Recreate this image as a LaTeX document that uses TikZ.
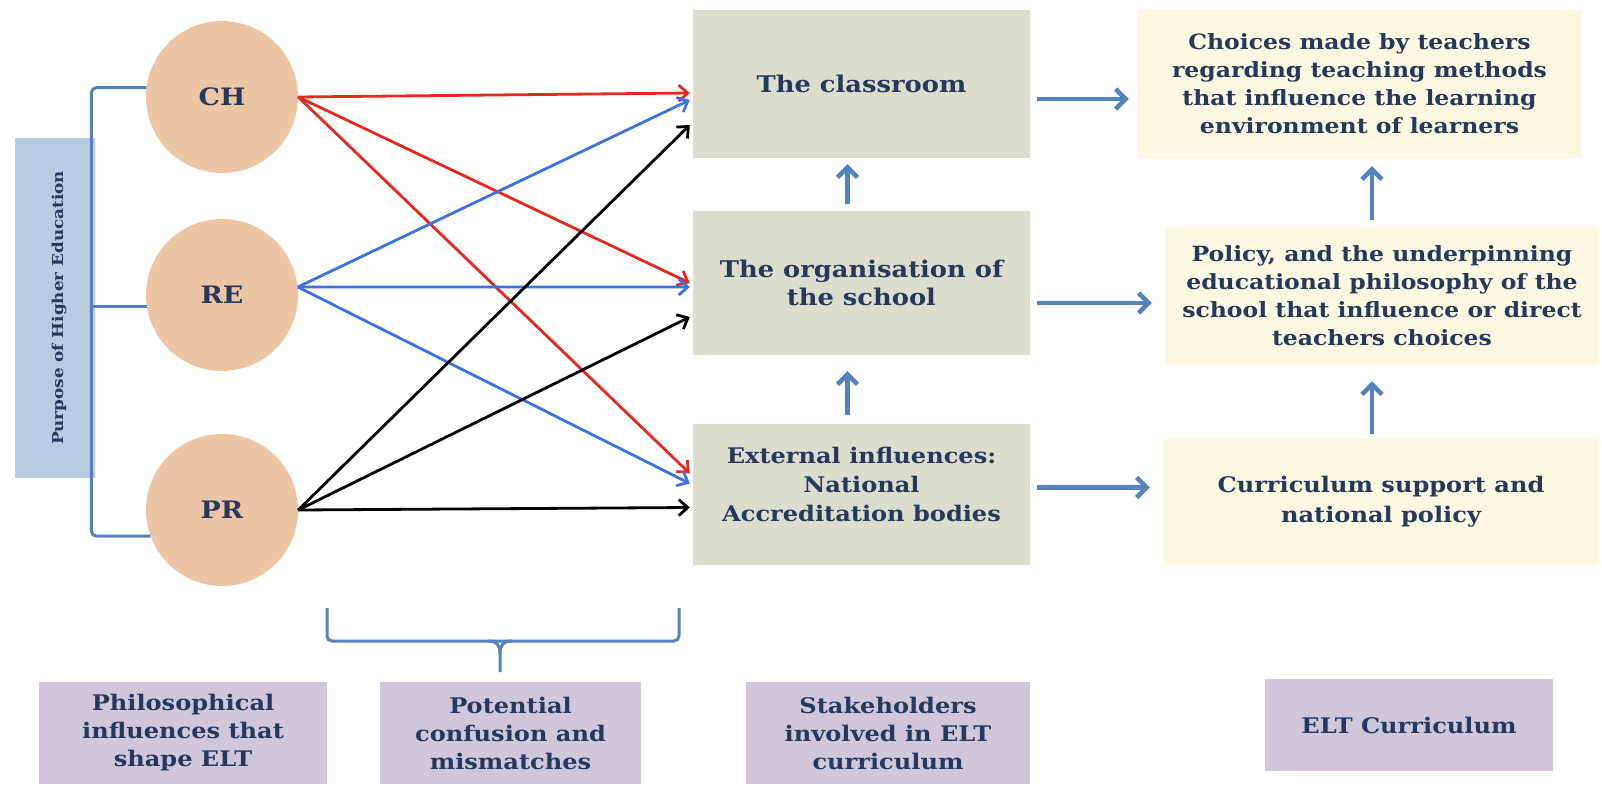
\documentclass[tikz,border=0pt]{standalone}
\usepackage{fontspec}
\setmainfont{DejaVu Serif}[FakeStretch=1.12]
\usetikzlibrary{arrows.meta}

\definecolor{peach}{RGB}{236,198,164}
\definecolor{sage}{RGB}{220,221,205}
\definecolor{cream}{RGB}{251,248,226}
\definecolor{lilac}{RGB}{208,200,218}
\definecolor{paleblue}{RGB}{184,204,228}
\definecolor{steel}{RGB}{84,130,190}
\definecolor{navy}{RGB}{38,56,92}
\definecolor{redarr}{RGB}{230,40,30}
\definecolor{bluearr}{RGB}{60,115,225}

\begin{document}
\begin{tikzpicture}[x=1pt,y=-1pt]

\tikzset{circ/.style = {shape=circle,fill=peach,minimum size=152pt,inner sep=0pt,text=navy,font=\fontsize{24}{30}\selectfont\bfseries}}
\tikzset{midbox/.style = {fill=sage,inner sep=4pt,text=navy,align=center,font=\fontsize{23}{28}\selectfont\bfseries}}
\tikzset{rightbox/.style = {fill=cream,inner sep=4pt,text=navy,align=center,font=\fontsize{21}{28}\selectfont\bfseries}}
\tikzset{botbox/.style = {fill=lilac,inner sep=4pt,text=navy,align=center,font=\fontsize{21.5}{28}\selectfont\bfseries}}
\tikzset{edge/.style = {line width=2.8pt,-{Straight Barb[length=9pt,width=16pt]}}}
\tikzset{link/.style = {steel,line width=4.5pt,-{Straight Barb[length=10pt,width=20pt]}}}
\tikzset{brk/.style = {steel,line width=3pt,rounded corners=5pt}}

\useasboundingbox (0,0) rectangle (1602,789);

% purpose of higher education
\node[fill=paleblue,minimum width=80pt,minimum height=340pt,inner sep=0pt] (hed) at (55,308) {};
\node[rotate=90,text=navy,font=\fontsize{15}{20}\selectfont\bfseries] (hedtxt) at (59,308) {Purpose of Higher Education};

% vertices
\node[circ] (CH) at (222,97) {CH};
\node[circ] (RE) at (222,295) {RE};
\node[circ] (PR) at (222,510) {PR};

\node[midbox,minimum width=337pt,minimum height=148pt] (cls) at (861.5,84) {The classroom};
\node[midbox,minimum width=337pt,minimum height=144pt] (org) at (861.5,283) {The organisation of\\the school};
\node[midbox,minimum width=337pt,minimum height=141pt,font=\fontsize{21.5}{29}\selectfont\bfseries] (ext) at (861.5,494.5) {External influences:\\National\\Accreditation bodies\\[-9pt]};

\node[rightbox,minimum width=445pt,minimum height=148pt] (cho) at (1359.5,84) {Choices made by teachers\\regarding teaching methods\\that influence the learning\\environment of learners};
\node[rightbox,minimum width=434pt,minimum height=138pt] (pol) at (1382,296) {Policy, and the underpinning\\educational philosophy of the\\school that influence or direct\\teachers choices};
\node[rightbox,minimum width=436pt,minimum height=126pt,font=\fontsize{21.5}{30}\selectfont\bfseries] (cur) at (1381,502) {Curriculum support and\\national policy};

\node[botbox,minimum width=288pt,minimum height=102pt] (phi) at (183,733) {Philosophical\\influences that\\shape ELT};
\node[botbox,minimum width=261pt,minimum height=102pt] (pot) at (510.5,733) {Potential\\confusion and\\mismatches};
\node[botbox,minimum width=284pt,minimum height=102pt] (stk) at (888,733) {Stakeholders\\involved in ELT\\curriculum};
\node[botbox,minimum width=288pt,minimum height=92pt] (elt) at (1409,725) {ELT Curriculum};

% brackets
\draw[brk] (CH.173) -- ++(-55,0) |- (PR.200);
\draw[brk] (RE.189) -- ++(-55,0);
\draw[brk] (327,608) -- (327,641) -- (679,641) -- (679,608);
\draw[brk,rounded corners=0pt] (488,641) .. controls (497,641) and (500,645) .. (500,654) -- (500,672);
\draw[brk,rounded corners=0pt] (512,641) .. controls (503,641) and (500,645) .. (500,654);

%edges
\draw[edge,redarr] (CH.east) -- ([yshift=-9pt,xshift=-3pt]cls.west);
\draw[edge,redarr] (CH.east) -- ([xshift=-3pt]org.west);
\draw[edge,redarr] (CH.east) -- ([yshift=21pt,xshift=-3pt]ext.west);
\draw[edge,bluearr] (RE.6) -- ([yshift=-16pt,xshift=-3pt]cls.west);
\draw[edge,bluearr] (RE.6) -- ([yshift=-4pt,xshift=-3pt]org.west);
\draw[edge,bluearr] (RE.6) -- ([yshift=11pt,xshift=-3pt]ext.west);
\draw[edge,black] (PR.east) -- ([yshift=-41pt,xshift=-3pt]cls.west);
\draw[edge,black] (PR.east) -- ([yshift=-34pt,xshift=-3pt]org.west);
\draw[edge,black] (PR.east) -- ([yshift=-13pt,xshift=-3pt]ext.west);

\draw[link,shorten <=7pt,shorten >=8pt] ([yshift=-15pt]cls.east) -- ([yshift=-15pt]cho.west);
\draw[link,shorten <=7pt,shorten >=13pt] ([yshift=-20pt]org.east) -- ([yshift=-20pt]org.east -| pol.west);
\draw[link,shorten <=7pt,shorten >=13pt] ([yshift=7pt]ext.east) -- ([yshift=7pt]ext.east -| cur.west);
\draw[link,shorten <=7pt,shorten >=6pt] ([xshift=-14pt]org.north) -- ([xshift=-14pt]cls.south);
\draw[link,shorten <=9pt,shorten >=16pt] ([xshift=-14pt]ext.north) -- ([xshift=-14pt]org.south);
\draw[link,shorten <=7pt,shorten >=8pt] ([xshift=-10pt]pol.north) -- ([xshift=-10pt]pol.north |- cho.south);
\draw[link,shorten <=5pt,shorten >=16pt] ([xshift=-9pt]cur.north) -- ([xshift=-9pt]cur.north |- pol.south);
\end{tikzpicture}
\end{document}
